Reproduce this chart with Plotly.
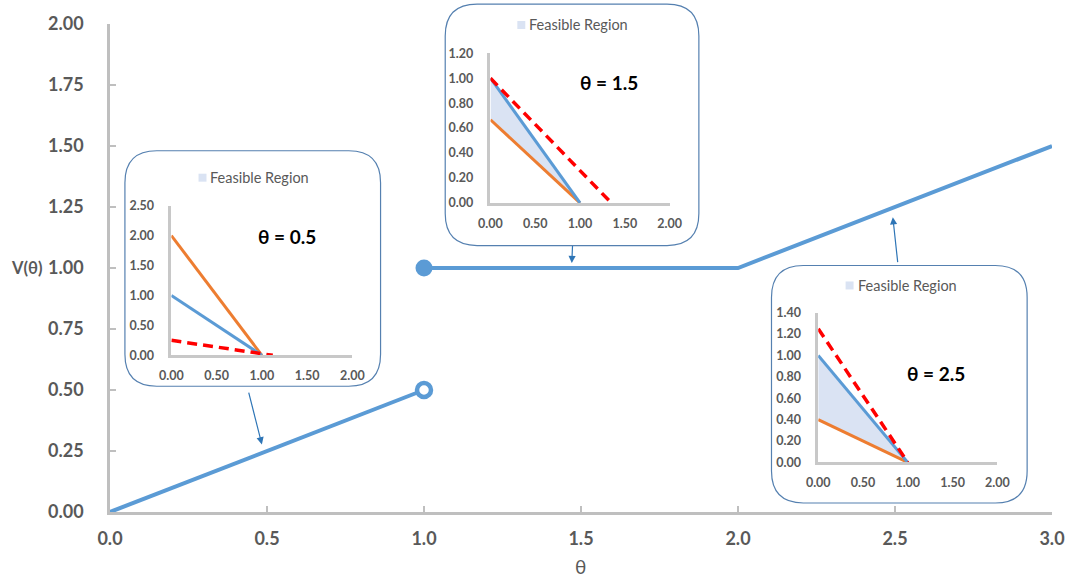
import plotly.graph_objects as go

# ---------------- data ----------------
theta_low = [0.0, 1.0]
v_low = [0.0, 0.5]
theta_high = [1.0, 2.0, 3.0]
v_high = [1.0, 1.0, 1.5]
open_theta = [1.0]
open_v = [0.5]
closed_theta = [1.0]
closed_v = [1.0]

inset_theta = [0.5, 1.5, 2.5]
inset_labels = ["θ = 0.5", "θ = 1.5", "θ = 2.5"]
blue_y0 = [1.0, 1.0, 1.0]
blue_xi = [1.0, 1.0, 1.0]
orange_y0 = [2.0, 0.667, 0.4]
orange_xi = [1.0, 1.0, 1.0]
red_y0 = [0.25, 1.0, 1.25]
red_xi = [1.12, 1.35, 1.0]
feasible = [False, True, True]
inset_ymax = [2.5, 1.2, 1.4]
inset_dtick = [0.5, 0.2, 0.2]
arrow_theta = [0.49, 1.47, 2.49]


def V(t):
    if t < 1:
        return v_low[0] + (v_low[1] - v_low[0]) * (t - theta_low[0]) / (theta_low[1] - theta_low[0])
    if t <= 2:
        return v_high[0]
    return v_high[1] + (v_high[2] - v_high[1]) * (t - theta_high[1]) / (theta_high[2] - theta_high[1])


# ---------------- geometry ----------------
W, H = 1077, 581
L, R, T, B = 110, 20, 23, 69
PW, PH = W - L - R, H - T - B


def fx(p):
    return (p - L) / PW


def fy(p):
    return (H - B - p) / PH


BLUE = "#5b9bd5"
ORANGE = "#ed7d31"
RED = "#ff0000"
FILL = "#dae3f3"
GRAY = "#595959"
AX = "#bfbfbf"
FONT = "Lato"

boxes = [(125, 150, 382, 386), (447, 3, 702, 245), (775, 265, 1032, 503)]
plots = [(171.7, 353.7, 355, 205), (492.5, 672.5, 202.3, 52.3), (822, 1002, 462.3, 312.3)]
legends = [(203, 177), (523.5, 24), (853.5, 285)]
labels = [(288, 236), (612, 82), (940, 373)]
arrow_off = [(-15.5, -61, 8), (1, -23.5, 5), (6, 55.4, 9)]

fig = go.Figure()

# main curve
fig.add_trace(go.Scatter(x=theta_low, y=v_low, mode="lines",
                         line=dict(color=BLUE, width=4), cliponaxis=False, showlegend=False))
fig.add_trace(go.Scatter(x=theta_high, y=v_high, mode="lines",
                         line=dict(color=BLUE, width=4), cliponaxis=False, showlegend=False))
fig.add_trace(go.Scatter(x=open_theta, y=open_v, mode="markers",
                         marker=dict(symbol="circle", size=14, color="white",
                                     line=dict(color=BLUE, width=4.5)),
                         cliponaxis=False, showlegend=False))
fig.add_trace(go.Scatter(x=closed_theta, y=closed_v, mode="markers",
                         marker=dict(symbol="circle", size=17, color=BLUE),
                         cliponaxis=False, showlegend=False))

shapes = []
annotations = []

layout_axes = {}
for i in range(3):
    n = i + 2
    xa, ya = f"x{n}", f"y{n}"
    bx = [0.0, blue_xi[i]]
    by = [blue_y0[i], 0.0]
    ox = [0.0, orange_xi[i]]
    oy = [orange_y0[i], 0.0]
    rx = [0.0, red_xi[i]]
    ry = [red_y0[i], 0.0]
    if feasible[i]:
        fig.add_trace(go.Scatter(x=bx + ox[::-1], y=by + oy[::-1], fill="toself",
                                 fillcolor=FILL, line=dict(width=0), mode="lines",
                                 xaxis=xa, yaxis=ya, showlegend=False))
    fig.add_trace(go.Scatter(x=ox, y=oy, mode="lines", line=dict(color=ORANGE, width=3),
                             xaxis=xa, yaxis=ya, showlegend=False, cliponaxis=False))
    fig.add_trace(go.Scatter(x=bx, y=by, mode="lines", line=dict(color=BLUE, width=3),
                             xaxis=xa, yaxis=ya, showlegend=False, cliponaxis=False))
    fig.add_trace(go.Scatter(x=rx, y=ry, mode="lines",
                             line=dict(color=RED, width=3.5, dash="10px,6px"),
                             xaxis=xa, yaxis=ya, showlegend=False, cliponaxis=False))

    px0, px2, py0, pyt = plots[i]
    layout_axes[f"xaxis{n}"] = dict(
        domain=[fx(px0), fx(px2)], range=[0, 2], dtick=0.5, tickformat=".2f",
        anchor=ya, showline=True, linecolor="#c8c8c8", linewidth=2.5, showgrid=False,
        zeroline=False, ticks="", ticklabelstandoff=7,
        tickfont=dict(family=FONT, size=12.5, color=GRAY, weight="bold"))
    layout_axes[f"yaxis{n}"] = dict(
        domain=[fy(py0), fy(pyt)], range=[0, inset_ymax[i]], dtick=inset_dtick[i],
        tickformat=".2f", anchor=xa, showline=True, linecolor="#c8c8c8", linewidth=2.5,
        showgrid=False, zeroline=False, ticks="", ticklabelstandoff=12,
        tickfont=dict(family=FONT, size=12.5, color=GRAY, weight="bold"))

    # rounded box
    x0, y0, x1, y1 = boxes[i]
    r = 32
    pts = [
        ("M", (x0 + r, y0)), ("L", (x1 - r, y0)), ("Q", (x1, y0), (x1, y0 + r)),
        ("L", (x1, y1 - r)), ("Q", (x1, y1), (x1 - r, y1)), ("L", (x0 + r, y1)),
        ("Q", (x0, y1), (x0, y1 - r)), ("L", (x0, y0 + r)), ("Q", (x0, y0), (x0 + r, y0)),
    ]
    path = ""
    for cmd, *ps in pts:
        path += cmd + " " + " ".join(f"{fx(a):.5f},{fy(b):.5f}" for a, b in ps) + " "
    path += "Z"
    shapes.append(dict(type="path", path=path, xref="paper", yref="paper",
                       line=dict(color="#5580b0", width=1.2), fillcolor="white", layer="below"))

    # legend swatch + text
    lx, ly = legends[i]
    shapes.append(dict(type="rect", xref="paper", yref="paper",
                       x0=fx(lx - 4), x1=fx(lx + 4), y0=fy(ly + 4), y1=fy(ly - 4),
                       fillcolor=FILL, line=dict(width=0)))
    annotations.append(dict(x=fx(lx + 6), y=fy(ly), xref="paper", yref="paper",
                            text="Feasible Region", showarrow=False, xanchor="left",
                            yanchor="middle",
                            font=dict(family=FONT, size=14.5, color=GRAY)))
    # theta label
    tx, ty = labels[i]
    annotations.append(dict(x=fx(tx), y=fy(ty), xref="paper", yref="paper",
                            text=inset_labels[i], showarrow=False, xanchor="center",
                            yanchor="middle",
                            font=dict(family=FONT, size=19, color="black", weight="bold")))
    # arrow to main curve
    ax, ay, so = arrow_off[i]
    t = arrow_theta[i]
    annotations.append(dict(x=t, y=V(t), xref="x", yref="y", ax=ax, ay=ay,
                            showarrow=True, arrowhead=2, arrowsize=1.2, arrowwidth=1.2,
                            arrowcolor="#2e75b6", standoff=so, text=""))

# axis titles
annotations.append(dict(x=fx(44), y=fy(268), xref="paper", yref="paper", text="V(θ)",
                        xanchor="right", yanchor="middle",
                        showarrow=False, font=dict(family=FONT, size=16.5, color=GRAY, weight="bold")))
annotations.append(dict(x=fx(583), y=fy(580), xref="paper", yref="paper", text="θ",
                        xanchor="center", yanchor="bottom",
                        showarrow=False, font=dict(family=FONT, size=19, color=GRAY)))

fig.update_layout(
    width=W, height=H, margin=dict(l=L, r=R, t=T, b=B),
    paper_bgcolor="white", plot_bgcolor="white", showlegend=False,
    xaxis=dict(range=[0, 3], dtick=0.5, tickformat=".1f", showline=True, linecolor=AX,
               linewidth=2.5, showgrid=False, zeroline=False, ticks="inside", ticklen=6,
               tickcolor=AX, tickwidth=2, ticklabelstandoff=9,
               tickfont=dict(family=FONT, size=18, color=GRAY, weight="bold")),
    yaxis=dict(range=[0, 2], dtick=0.25, tickformat=".2f", showline=True, linecolor=AX,
               linewidth=2.5, showgrid=False, zeroline=False, ticks="inside", ticklen=6,
               tickcolor=AX, tickwidth=2, ticklabelstandoff=20,
               tickfont=dict(family=FONT, size=18, color=GRAY, weight="bold")),
    shapes=shapes, annotations=annotations,
    **layout_axes,
)

fig.write_html("out.html")
